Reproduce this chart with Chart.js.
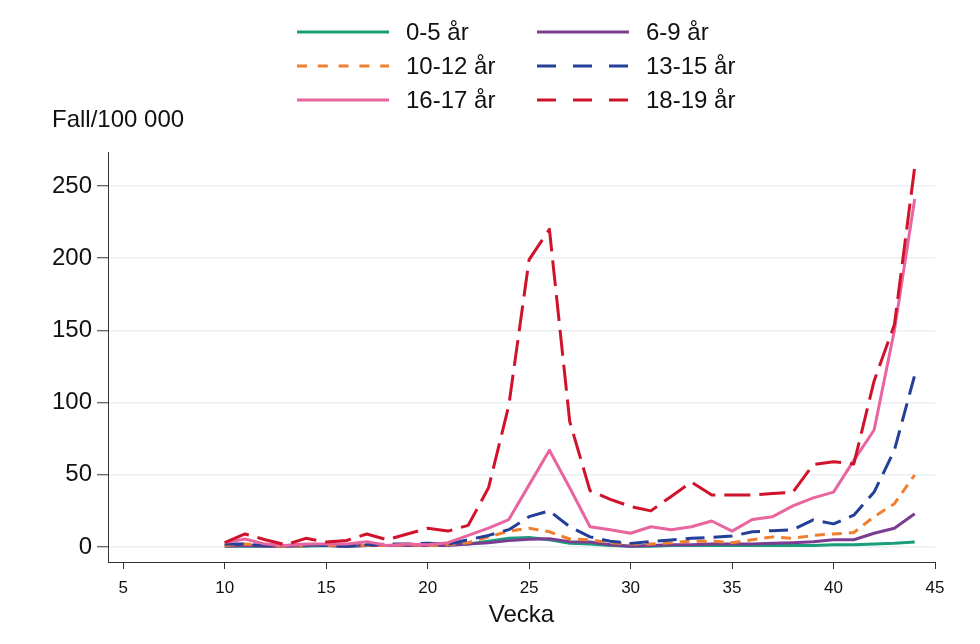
<!DOCTYPE html>
<html lang="sv">
<head>
<meta charset="UTF-8">
<title>Fall/100 000 per vecka och åldersgrupp</title>
<script src="https://cdn.jsdelivr.net/npm/chart.js"></script>
<style>
  html, body { margin: 0; padding: 0; background: #fff; }
</style>
</head>
<body>
<canvas id="chart" width="980" height="644"></canvas>
<script>
// veckor 10-44
const weeks = [10, 11, 12, 13, 14, 15, 16, 17, 18, 19, 20, 21, 22, 23, 24, 25, 26, 27,
               28, 29, 30, 31, 32, 33, 34, 35, 36, 37, 38, 39, 40, 41, 42, 43, 44];
const ageGroups = ['0-5 år', '6-9 år', '10-12 år', '13-15 år', '16-17 år', '18-19 år'];

const age0to5 = [0.5, 0.5, 0.5, 0.5, 0.5, 1, 0.5, 1, 1, 1, 1, 1.5, 2, 4, 6, 6.5, 5, 2.5,
                 2, 1, 0.5, 0.5, 1, 1, 1, 1, 1, 1, 1, 1, 1.5, 1.5, 2, 2.5, 3.5];
const age6to9 = [0.5, 1, 0.5, 0.5, 1, 1, 0.5, 1, 1, 1, 1, 1, 2, 3, 4.4, 5.4, 5.7, 3.7,
                 3.5, 1.5, 0.5, 1, 1.5, 1.5, 2, 2, 2, 2.5, 3, 3.7, 5, 5, 9.5, 13, 23];
const age10to12 = [1, 2, 1, 0.5, 1, 1, 1.5, 1, 1, 1.5, 1, 1.5, 3, 7, 11, 13, 10.5, 5.5,
                   5, 3, 2, 2, 3, 4, 4, 3, 5, 7, 6, 8, 9, 10, 21, 30, 50];
const age13to15 = [2, 2, 1, 1, 1.5, 1, 0.5, 1.5, 2, 2, 2.5, 2, 5, 8, 12, 21, 25, 14,
                   7, 4, 2.5, 3.7, 4.8, 6, 6.7, 7.6, 10.5, 11.3, 12, 18.7, 16, 22, 38, 67, 119];
const age16to17 = [3, 5.5, 2, 1, 2, 2, 2, 3.7, 1, 2, 1.5, 3, 8, 13, 19, 43, 67, 41,
                   14, 12, 9.5, 14, 12, 14, 18, 11, 19, 21, 28.5, 34, 38, 60, 81, 150, 241];
const age18to19 = [3, 9, 5, 1.5, 6, 3.5, 4.5, 9, 5, 9, 13, 11, 15, 41, 98, 199, 220, 87,
                   39, 33, 28, 25, 35, 45, 36, 36, 36, 37, 38, 57, 59, 57.5, 115, 154, 263];

const yTicks = [0, 50, 100, 150, 200, 250];
const xTicks = [5, 10, 15, 20, 25, 30, 35, 40, 45];

const seriesValues = [age0to5, age6to9, age10to12, age13to15, age16to17, age18to19];
const colors = ['#1a9e7a', '#7a3d92', '#f07f2f', '#243f98', '#e8659f', '#d0132a'];
const chartDash = [[], [], [10, 7], [19, 9], [], [26, 9]];
const legendDash = [[], [], [10, 10.8], [19, 17], [], [19, 17]];

const fontFamily = 'Arial, "Liberation Sans", sans-serif';

// legenden i två kolumner, tre rader
const gridLegend = {
    id: 'gridLegend',
    afterDraw(chart) {
        const ctx = chart.ctx;
        ctx.save();
        ctx.font = '24px ' + fontFamily;
        ctx.textBaseline = 'middle';
        chart.data.datasets.forEach((ds, i) => {
            const x = 297 + (i % 2) * 240;
            const y = 32 + Math.floor(i / 2) * 34;
            ctx.strokeStyle = ds.borderColor;
            ctx.lineWidth = 3;
            ctx.setLineDash(legendDash[i]);
            ctx.beginPath();
            ctx.moveTo(x, y);
            ctx.lineTo(x + 92, y);
            ctx.stroke();
            ctx.setLineDash([]);
            ctx.fillStyle = '#111';
            ctx.fillText(ds.label, x + 109, y + 1);
        });
        ctx.restore();
    }
};

const datasets = ageGroups.map((label, i) => ({
    label: label,
    data: weeks.map((w, j) => ({ x: w, y: seriesValues[i][j] })),
    borderColor: colors[i],
    backgroundColor: colors[i],
    borderWidth: 3,
    borderDash: chartDash[i],
    borderJoinStyle: 'round',
    pointRadius: 0,
    tension: 0,
    order: ageGroups.length - i
}));

new Chart(document.getElementById('chart'), {
    type: 'line',
    data: { datasets: datasets },
    options: {
        responsive: false,
        animation: false,
        devicePixelRatio: 1,
        layout: { padding: { top: 105.6, left: 52, right: 45, bottom: 0 } },
        plugins: {
            legend: { display: false },
            tooltip: { enabled: false },
            title: {
                display: true,
                text: 'Fall/100 000',
                align: 'start',
                color: '#111',
                font: { family: fontFamily, size: 24, weight: 'normal' },
                padding: { top: 0, bottom: 17.6 }
            }
        },
        scales: {
            x: {
                type: 'linear',
                min: 4.25,
                max: 45,
                afterBuildTicks: (scale) => { scale.ticks = xTicks.map(v => ({ value: v })); },
                afterFit: (scale) => { scale.height = 82; },
                grid: { drawOnChartArea: false, tickLength: 7, tickColor: '#333', tickWidth: 1 },
                border: { color: '#333', width: 1 },
                ticks: {
                    color: '#111',
                    padding: 9,
                    maxRotation: 0,
                    font: { family: fontFamily, size: 17 }
                },
                title: {
                    display: true,
                    text: 'Vecka',
                    color: '#111',
                    font: { family: fontFamily, size: 24 },
                    padding: { top: 0, bottom: 14.6 }
                }
            },
            y: {
                min: -10.4,
                max: 273.5,
                afterBuildTicks: (scale) => { scale.ticks = yTicks.map(v => ({ value: v })); },
                afterFit: (scale) => { scale.width = 56; },
                grid: { color: '#e8f0f2', lineWidth: 1.5, tickLength: 11, tickColor: '#333', tickWidth: 1 },
                border: { color: '#333', width: 1 },
                ticks: {
                    color: '#111',
                    padding: 5,
                    font: { family: fontFamily, size: 24 }
                }
            }
        }
    },
    plugins: [gridLegend]
});
</script>
</body>
</html>
